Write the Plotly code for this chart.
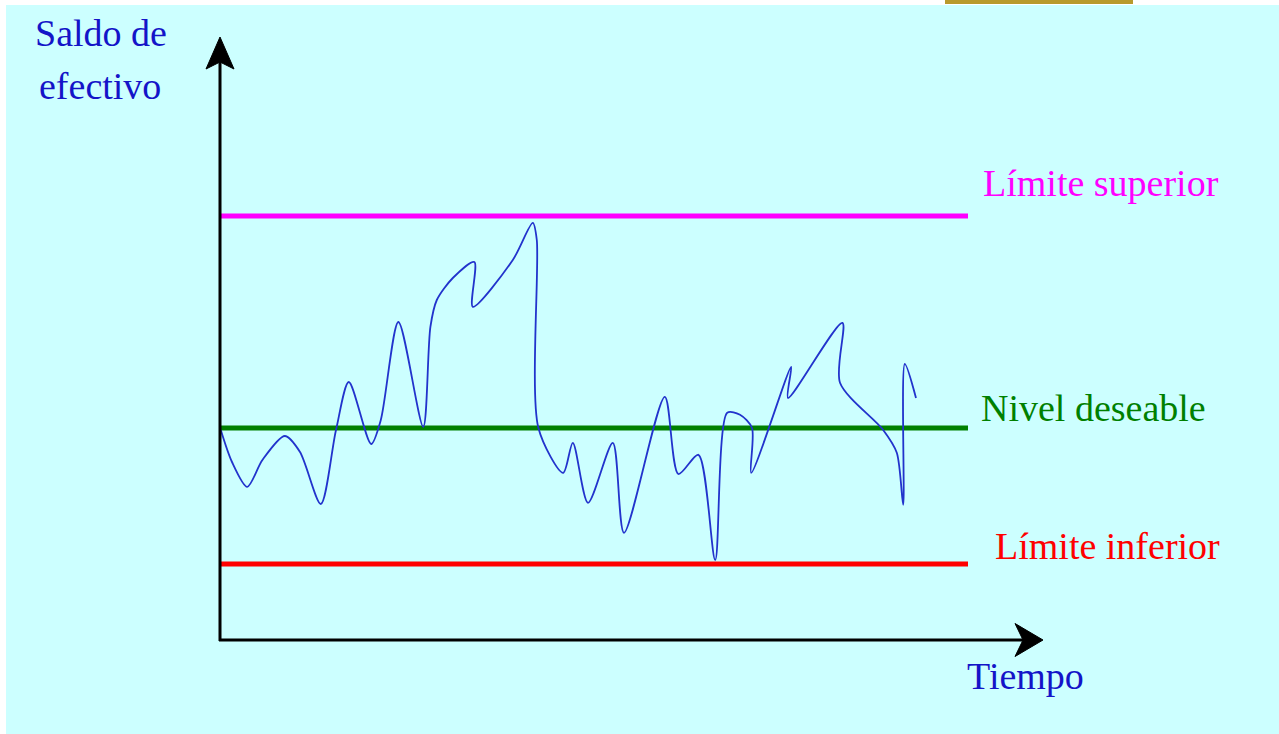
import plotly.graph_objects as go

# --- data -----------------------------------------------------------------
# cash balance over time (arbitrary units)
tiempo = [0.1, 1.5, 3.4, 5.3, 8.1, 10.0, 12.6, 14.5, 16.1, 18.9, 20.1, 22.3,
          25.4, 26.3, 27.1, 29.1, 31.8, 31.6, 36.6, 39.1, 39.6, 39.8, 42.9,
          44.1, 46.0, 49.1, 50.5, 55.6, 57.3, 59.8, 61.9, 63.4, 65.0, 66.5,
          66.4, 71.4, 71.0, 77.8, 77.5, 82.9, 84.6, 85.4, 85.6, 87.0]
saldo = [52.5, 44.5, 38.3, 45.0, 51.0, 47.0, 34.0, 52.5, 64.5, 49.0, 55.0, 79.5,
         53.3, 78.3, 85.0, 90.5, 94.5, 83.3, 95.0, 104.3, 100.0, 53.0, 41.8,
         49.3, 34.3, 49.3, 26.8, 60.8, 41.5, 46.3, 20.0, 56.8, 56.3, 53.0,
         41.8, 68.3, 60.5, 79.3, 64.3, 52.5, 46.8, 33.8, 69.0, 60.5]

niveles = ["Límite superior", "Nivel deseable", "Límite inferior"]
valores_nivel = [106.0, 53.0, 19.0]
colores_nivel = ["#ff00ff", "#008000", "#ff0000"]
fin_nivel = 93.5

# --- canvas / scale ---------------------------------------------------------
W, H = 1279, 734
ORIG_PX, ORIG_PY = 220, 640      # pixel position of the axes origin
SX, SY = 8.0, 4.0                # pixels per unit
x_range = [(0 - ORIG_PX) / SX, (W - ORIG_PX) / SX]
y_range = [(ORIG_PY - H) / SY, ORIG_PY / SY]
PANEL = "#ccffff"


def px_x(px):
    return (px - ORIG_PX) / SX


def px_y(py):
    return (ORIG_PY - py) / SY


def paper_x(px):
    return px / W


def paper_y(py):
    return 1 - py / H


TXT_BLUE = "#1414c8"
FONT = "Liberation Serif"
FS = 38

fig = go.Figure()

# reference levels
for nombre, val, col in zip(niveles, valores_nivel, colores_nivel):
    fig.add_trace(go.Scatter(x=[0, fin_nivel], y=[val, val], mode="lines",
                             line=dict(color=col, width=5), name=nombre,
                             hoverinfo="skip"))

# cash balance curve
fig.add_trace(go.Scatter(x=tiempo, y=saldo, mode="lines",
                         line=dict(color="#2233cc", width=1.8, shape="spline",
                                   smoothing=0.8),
                         name="Saldo"))

shapes = []
# white margin strips on the left and top of the cyan panel
shapes.append(dict(type="rect", xref="paper", yref="paper", layer="below",
                   x0=-0.01, x1=paper_x(6), y0=-0.01, y1=1.01,
                   fillcolor="white", line=dict(width=0)))
shapes.append(dict(type="rect", xref="paper", yref="paper", layer="below",
                   x0=-0.01, x1=1.01, y0=paper_y(5), y1=1.01,
                   fillcolor="white", line=dict(width=0)))
# strip of a picture peeking in at the top
shapes.append(dict(type="rect", xref="paper", yref="paper", layer="below",
                   x0=paper_x(945), x1=paper_x(1133), y0=paper_y(4), y1=1.01,
                   fillcolor="#b89a2c", line=dict(width=0)))

# axes
shapes.append(dict(type="line", x0=0, x1=0, y0=px_y(641), y1=px_y(60),
                   line=dict(color="black", width=3)))
shapes.append(dict(type="line", x0=px_x(219), x1=px_x(1025), y0=0, y1=0,
                   line=dict(color="black", width=3)))
# arrow heads (pixel-sized, anchored at the tips)
shapes.append(dict(type="path", xsizemode="pixel", ysizemode="pixel",
                   xanchor=0, yanchor=px_y(37),
                   path="M 0,0 L -14,-32 L 0,-25 L 14,-32 Z",
                   fillcolor="black", line=dict(color="black", width=1)))
shapes.append(dict(type="path", xsizemode="pixel", ysizemode="pixel",
                   xanchor=px_x(1043), yanchor=0,
                   path="M 0,0 L -28,16.5 L -20,0 L -28,-16.5 Z",
                   fillcolor="black", line=dict(color="black", width=1)))

annotations = []


def label(text, px, baseline, color):
    annotations.append(dict(text=text, xref="paper", yref="paper",
                            x=paper_x(px), y=paper_y(baseline - 0.3 * FS),
                            xanchor="left", yanchor="middle", showarrow=False,
                            font=dict(family=FONT, size=FS, color=color)))


label("Saldo de", 33, 44, TXT_BLUE)
label("efectivo", 37, 97, TXT_BLUE)
label("Tiempo", 965, 687, TXT_BLUE)
label(niveles[0], 981, 194, colores_nivel[0])
label(niveles[1], 979, 419, colores_nivel[1])
label(niveles[2], 993, 557, colores_nivel[2])

fig.update_layout(
    width=W, height=H,
    margin=dict(l=0, r=0, t=0, b=0),
    paper_bgcolor=PANEL, plot_bgcolor="rgba(0,0,0,0)",
    showlegend=False,
    xaxis=dict(range=x_range, visible=False, fixedrange=True),
    yaxis=dict(range=y_range, visible=False, fixedrange=True),
    shapes=shapes, annotations=annotations,
)

# let the page around the figure share the panel colour
page_bg = ("document.documentElement.style.background='%s';"
           "document.body.style.background='%s';" % (PANEL, PANEL))
fig.write_html("out.html", post_script=page_bg)
